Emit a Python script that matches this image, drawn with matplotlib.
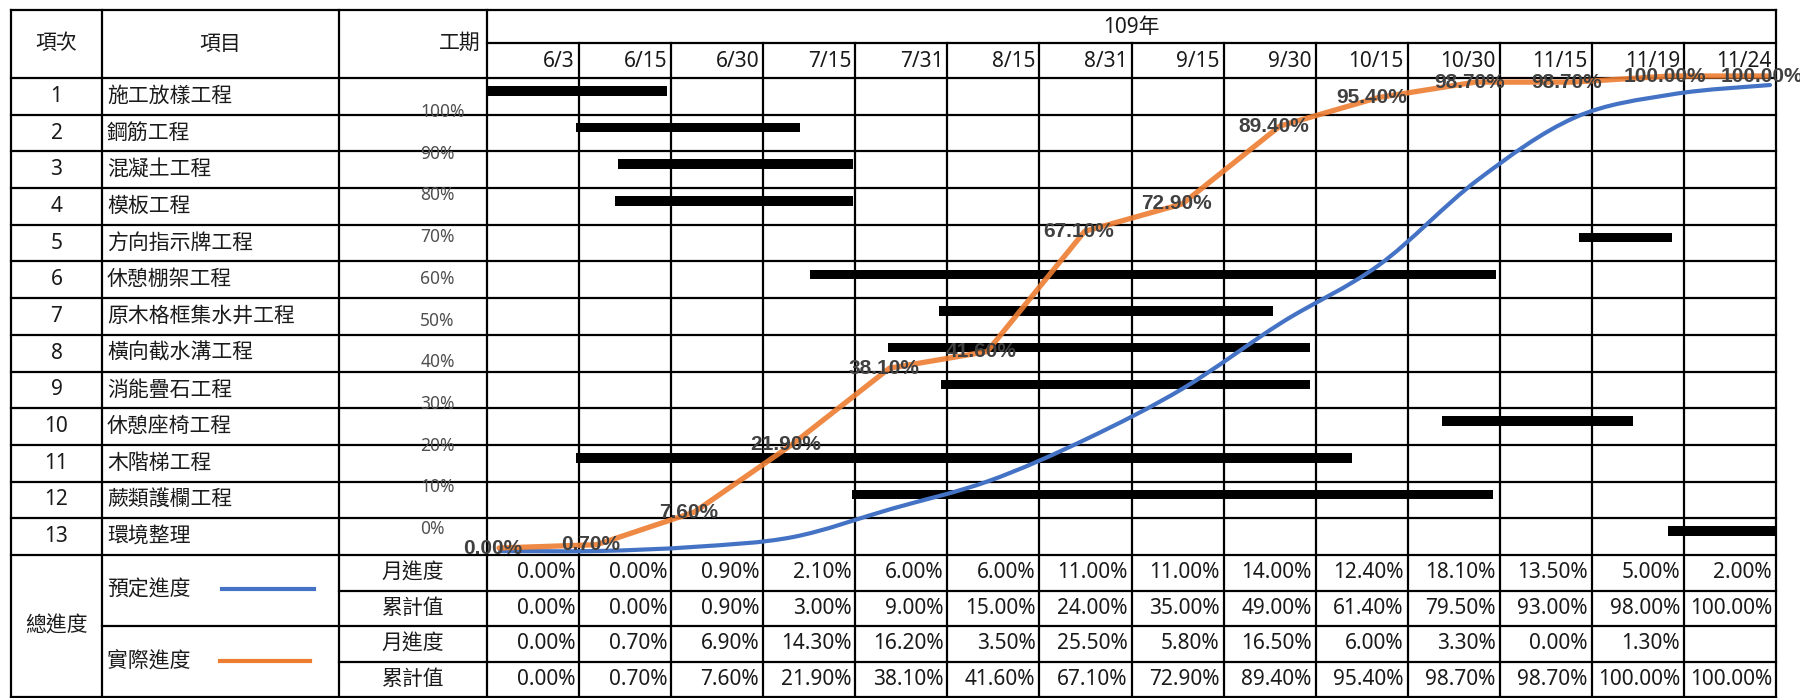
import numpy as np
import matplotlib
matplotlib.use('Agg')
import matplotlib.pyplot as plt
from matplotlib.path import Path
from matplotlib.patches import PathPatch
from matplotlib.transforms import offset_copy

plt.rcParams['font.family'] = ['Noto Sans', 'Noto Sans CJK TC', 'DejaVu Sans']

# 資料
year_label = '109年'
periods = ['6/3', '6/15', '6/30', '7/15', '7/31', '8/15', '8/31',
           '9/15', '9/30', '10/15', '10/30', '11/15', '11/19', '11/24']
items = ['施工放樣工程', '鋼筋工程', '混凝土工程', '模板工程', '方向指示牌工程',
         '休憩棚架工程', '原木格框集水井工程', '橫向截水溝工程', '消能疊石工程',
         '休憩座椅工程', '木階梯工程', '蕨類護欄工程', '環境整理']
# 甘特條 (以期別欄位為單位)
bar_start = [0.00, 0.97, 1.42, 1.39, 11.86, 3.51, 4.91, 4.36, 4.93, 10.37, 0.97, 3.96, 12.83]
bar_end = [1.95, 3.40, 3.97, 3.97, 12.87, 10.96, 8.54, 8.94, 8.94, 12.45, 9.40, 10.93, 14.00]

plan_month = [0.00, 0.00, 0.90, 2.10, 6.00, 6.00, 11.00, 11.00, 14.00, 12.40, 18.10, 13.50, 5.00, 2.00]
plan_cum = [0.00, 0.00, 0.90, 3.00, 9.00, 15.00, 24.00, 35.00, 49.00, 61.40, 79.50, 93.00, 98.00, 100.00]
actual_month = [0.00, 0.70, 6.90, 14.30, 16.20, 3.50, 25.50, 5.80, 16.50, 6.00, 3.30, 0.00, 1.30, None]
actual_cum = [0.00, 0.70, 7.60, 21.90, 38.10, 41.60, 67.10, 72.90, 89.40, 95.40, 98.70, 98.70, 100.00, 100.00]

# 版面 (像素)
W, H = 1800, 698
X_L, X_NO, X_ITEM, X_TL, X_R = 11, 102, 339, 487, 1776
Y_TOP, Y_YEAR, Y_HEAD, Y_GEND, Y_BOT = 10, 43, 78, 555, 697
n_col = len(periods)
n_row = len(items)
cw = (X_R - X_TL) / n_col
rh = (Y_GEND - Y_HEAD) / n_row
bh = (Y_BOT - Y_GEND) / 4

BLUE = '#4472C4'
ORANGE = '#ED7D31'
TXT = '#1a1a1a'
FS = 15

fig = plt.figure(figsize=(W / 100, H / 100), dpi=100)


def px_axes(x0, y0, x1, y1):
    a = fig.add_axes([x0 / W, 1 - y1 / H, (x1 - x0) / W, (y1 - y0) / H])
    a.set_facecolor('none')
    return a


ax = fig.add_axes([0, 0, 1, 1])
ax.set_xlim(0, W)
ax.set_ylim(H, 0)
ax.axis('off')

LW = 1.6


def hline(y, x0, x1):
    ax.plot([x0, x1], [y, y], color='black', lw=LW, solid_capstyle='projecting')


def vline(x, y0, y1):
    ax.plot([x, x], [y0, y1], color='black', lw=LW, solid_capstyle='projecting')


# 表格線
hline(Y_TOP, X_L, X_R)
hline(Y_YEAR, X_TL, X_R)
hline(Y_HEAD, X_L, X_R)
for k in range(1, n_row + 1):
    hline(Y_HEAD + k * rh, X_L, X_R)
hline(Y_GEND + bh, X_ITEM, X_R)
hline(Y_GEND + 2 * bh, X_NO, X_R)
hline(Y_GEND + 3 * bh, X_ITEM, X_R)
hline(Y_BOT, X_L, X_R)
for x in [X_L, X_NO, X_ITEM, X_TL, X_R]:
    vline(x, Y_TOP, Y_BOT)
for k in range(1, n_col):
    vline(X_TL + k * cw, Y_YEAR, Y_BOT)

# 表頭
ax.text((X_L + X_NO) / 2, (Y_TOP + Y_HEAD) / 2, '項次', ha='center', va='center', fontsize=FS, color=TXT)
ax.text((X_NO + X_ITEM) / 2, (Y_TOP + Y_HEAD) / 2, '項目', ha='center', va='center', fontsize=FS, color=TXT)
ax.text(X_TL - 6, (Y_TOP + Y_HEAD) / 2 - 1, '工期', ha='right', va='center', fontsize=FS, color=TXT)
ax.text((X_TL + X_R) / 2, (Y_TOP + Y_YEAR) / 2 + 1, year_label, ha='center', va='center', fontsize=FS, color=TXT)
for i, p in enumerate(periods):
    ax.text(X_TL + (i + 1) * cw - 4, (Y_YEAR + Y_HEAD) / 2 + 1, p, ha='right', va='center',
            fontsize=FS, color=TXT)

# 項次與項目
for i, name in enumerate(items):
    yc = Y_HEAD + (i + 0.5) * rh
    ax.text((X_L + X_NO) / 2, yc, str(i + 1), ha='center', va='center', fontsize=FS, color=TXT)
    ax.text(X_NO + 5, yc, name, ha='left', va='center', fontsize=FS, color=TXT)

# 總進度表
ax.text((X_L + X_NO) / 2, Y_GEND + 2 * bh, '總進度', ha='center', va='center', fontsize=FS, color=TXT)
ax.text(X_NO + 5, Y_GEND + bh, '預定進度', ha='left', va='center', fontsize=FS, color=TXT)
ax.plot([222, 314], [Y_GEND + bh - 2, Y_GEND + bh - 2], color=BLUE, lw=3)
ax.text(X_NO + 5, Y_GEND + 3 * bh, '實際進度', ha='left', va='center', fontsize=FS, color=TXT)
ax.plot([220, 310], [Y_GEND + 3 * bh - 1, Y_GEND + 3 * bh - 1], color=ORANGE, lw=3)

rows = [('月進度', plan_month), ('累計值', plan_cum), ('月進度', actual_month), ('累計值', actual_cum)]
for r, (lab, vals) in enumerate(rows):
    yc = Y_GEND + (r + 0.5) * bh
    ax.text((X_ITEM + X_TL) / 2, yc, lab, ha='center', va='center', fontsize=FS, color=TXT)
    for i, v in enumerate(vals):
        if v is None:
            continue
        ax.text(X_TL + (i + 1) * cw - 4, yc, f'{v:.2f}%', ha='right', va='center', fontsize=FS, color=TXT)

# 甘特條
gx = px_axes(X_TL, Y_HEAD, X_R, Y_GEND)
gx.set_xlim(0, n_col)
gx.set_ylim(n_row, 0)
gx.axis('off')
starts = np.array(bar_start)
ends = np.array(bar_end)
gx.barh(np.arange(n_row) + 0.5 - 0.15, ends - starts, left=starts, height=0.26, color='black')

# 百分比刻度
yx = px_axes(403, 110, 410, 527)
yx.set_ylim(0, 100)
yx.set_xticks([])
yx.set_yticks(range(0, 101, 10))
yx.set_yticklabels([f'{v}%' for v in range(0, 101, 10)])
yx.tick_params(axis='y', left=False, labelleft=False, right=False, labelright=True,
               pad=4, labelsize=12.5, labelcolor='#505050')
for s in yx.spines.values():
    s.set_visible(False)

# 預定進度 (平滑曲線)
bx = px_axes(500, 85, 1770, 551)
bx.set_xlim(0, n_col - 1)
bx.set_ylim(0, 100)
bx.axis('off')
pts = np.column_stack([np.arange(n_col, dtype=float), np.array(plan_cum)])
ext = np.vstack([pts[0], pts, pts[-1]])
verts = [pts[0]]
codes = [Path.MOVETO]
for i in range(n_col - 1):
    p0, p1, p2, p3 = ext[i], ext[i + 1], ext[i + 2], ext[i + 3]
    verts += [p1 + (p2 - p0) / 6, p2 - (p3 - p1) / 6, p2]
    codes += [Path.CURVE4] * 3
bx.add_patch(PathPatch(Path(verts, codes), fill=False, edgecolor=BLUE, lw=3,
                       capstyle='round', clip_on=False))

# 實際進度
ox = px_axes(499, 76, 1768, 548)
ox.set_xlim(0, n_col - 1)
ox.set_ylim(0, 100)
ox.axis('off')
ox.plot(range(n_col), actual_cum, color=ORANGE, lw=3.8, alpha=0.9, solid_capstyle='round', clip_on=False)
lab_tr = offset_copy(ox.transData, fig=fig, x=-6, y=0, units='dots')
for i, v in enumerate(actual_cum):
    ox.text(i, v, f'{v:.2f}%', ha='center', va='center', fontsize=15,
            family=['Liberation Sans', 'DejaVu Sans'], fontweight='bold',
            color='#404040', transform=lab_tr, clip_on=False)

fig.savefig('out.png', dpi=100)
